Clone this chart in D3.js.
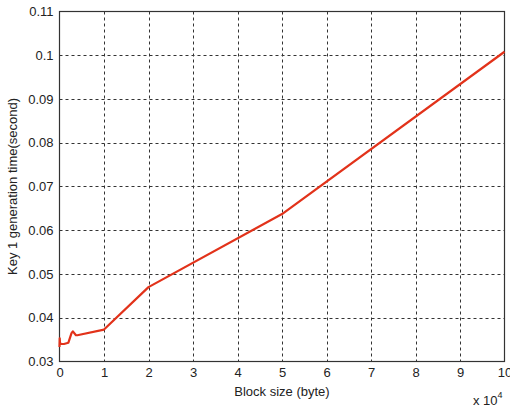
<!DOCTYPE html>
<html>
<head>
<meta charset="utf-8">
<script src="https://cdn.jsdelivr.net/npm/d3@7"></script>
<style>
  body { margin: 0; background: #fff; }
  text { font-family: "Liberation Sans", Arial, sans-serif; fill: #222; }
</style>
</head>
<body>
<div id="chart"></div>
<script>
// block size in units of 1e4 bytes
var blockSize = [0.0, 0.005, 0.01, 0.02, 0.05, 0.1, 0.2, 0.27, 0.3, 0.37, 0.4, 1, 2, 5, 10];
// key 1 generation time (second)
var genTime   = [0.0333, 0.0353, 0.0345, 0.0340, 0.0340, 0.0340, 0.0343, 0.0365, 0.0369, 0.0360, 0.0360, 0.0373, 0.0470, 0.0637, 0.1008];
var xTicks = [0, 1, 2, 3, 4, 5, 6, 7, 8, 9, 10];
var yTicks = [0.03, 0.04, 0.05, 0.06, 0.07, 0.08, 0.09, 0.1, 0.11];

var W = 510, H = 412;
var m = {left: 59.5, right: 5.5, top: 11.5, bottom: 50.5};

var svg = d3.select('#chart').append('svg')
    .attr('width', W).attr('height', H);

var x = d3.scaleLinear().domain([0, 10]).range([m.left, W - m.right]);
var y = d3.scaleLinear().domain([0.03, 0.11]).range([H - m.bottom, m.top]);

//grid lines
var g = svg.append('g');
g.selectAll('.vg').data(xTicks.slice(1, -1)).enter().append('line')
    .attr('x1', d => Math.round(x(d)) + 0.5).attr('x2', d => Math.round(x(d)) + 0.5)
    .attr('y1', m.top).attr('y2', H - m.bottom)
    .attr('stroke', '#333').attr('stroke-dasharray', '3,3').attr('stroke-width', 1);
g.selectAll('.hg').data(yTicks.slice(1, -1)).enter().append('line')
    .attr('y1', d => Math.round(y(d)) + 0.5).attr('y2', d => Math.round(y(d)) + 0.5)
    .attr('x1', m.left).attr('x2', W - m.right)
    .attr('stroke', '#333').attr('stroke-dasharray', '3,3').attr('stroke-width', 1);

//axes
var xAxis = d3.axisBottom(x).tickValues(xTicks).tickSize(0).tickPadding(6).tickFormat(d3.format('d'));
var yAxis = d3.axisLeft(y).tickValues(yTicks).tickSize(0).tickPadding(6).tickFormat(d => d3.format('')(+d.toFixed(2)));

svg.append('g').attr('transform', 'translate(0,' + (H - m.bottom) + ')').call(xAxis)
    .call(s => s.select('.domain').remove())
    .selectAll('text').style('font-size', '13px').attr('fill', '#222');
svg.append('g').attr('transform', 'translate(' + m.left + ',0)').call(yAxis)
    .call(s => s.select('.domain').remove())
    .selectAll('text').style('font-size', '13px').attr('fill', '#222');

//box
svg.append('rect')
    .attr('x', m.left).attr('y', m.top)
    .attr('width', W - m.left - m.right).attr('height', H - m.top - m.bottom)
    .attr('fill', 'none').attr('stroke', '#333').attr('stroke-width', 1.2);

//data line
var line = d3.line().x((d, i) => x(blockSize[i])).y(d => y(d));
svg.append('path').datum(genTime)
    .attr('d', line)
    .attr('fill', 'none')
    .attr('stroke', '#e2321a')
    .attr('stroke-width', 2.2)
    .attr('stroke-linejoin', 'round');

//labels
svg.append('text')
    .attr('x', (m.left + W - m.right) / 2).attr('y', 396)
    .attr('text-anchor', 'middle').style('font-size', '13px')
    .text('Block size (byte)');
svg.append('text')
    .attr('transform', 'translate(17,' + ((m.top + H - m.bottom) / 2) + ') rotate(-90)')
    .attr('text-anchor', 'middle').style('font-size', '13px')
    .text('Key 1 generation time(second)');

var ex = svg.append('text').attr('x', 473).attr('y', 405).style('font-size', '13px');
ex.append('tspan').text('x 10');
ex.append('tspan').attr('dy', -7).style('font-size', '9px').text('4');
</script>
</body>
</html>
